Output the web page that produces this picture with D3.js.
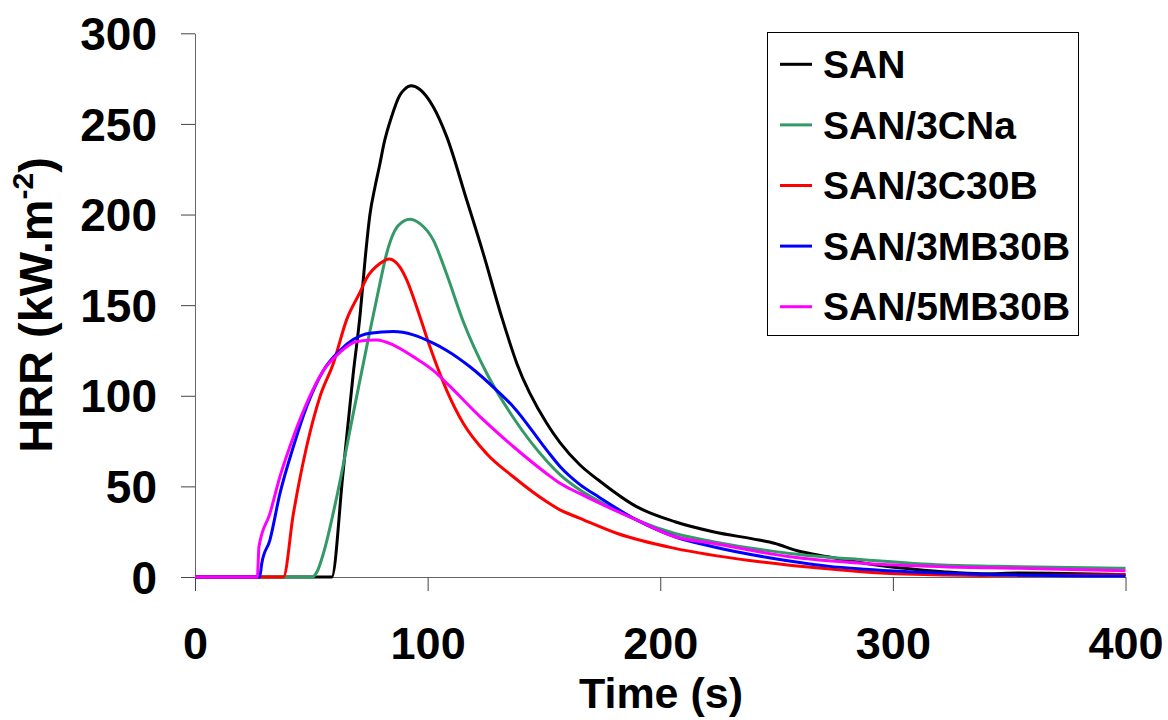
<!DOCTYPE html>
<html>
<head>
<meta charset="utf-8">
<script src="https://cdn.jsdelivr.net/npm/d3@7"></script>
<style>
  body { margin: 0; background: #fff; }
  text { font-family: "Liberation Sans", Arial, sans-serif; font-weight: bold; fill: #000; }
</style>
</head>
<body>
<svg id="chart" width="1168" height="720"></svg>
<script>
// time in s and HRR in kW/m2
const seriesNames = ["SAN", "SAN/3CNa", "SAN/3C30B", "SAN/3MB30B", "SAN/5MB30B"];
const seriesColors = ["#000000", "#339966", "#ff0000", "#0000ff", "#ff00ff"];

const sanT = [0, 58.8, 63.6, 68, 71, 73.1, 75.2, 77.5, 79.5, 81.2, 84.5, 88.1, 90, 92.9, 96.7, 102.4, 108.2, 116.8, 123.9, 131.8, 138.3, 151.2, 157, 165.5, 173.4, 189.8, 206.3, 222.7, 242.4, 249, 258.9, 272, 288.4, 305, 321.4, 338, 355, 400];
const sanV = [0, 0, 57, 112, 145, 175, 200, 216, 228, 239, 254, 266, 269, 271, 269, 259.5, 243, 208, 178.6, 143.6, 118, 84.8, 74, 61.8, 53.5, 38.8, 30.5, 25, 20.4, 18.6, 14.5, 11.2, 7.5, 4.8, 2.9, 1.8, 2.2, 1.3];

const cnaT = [0, 50.5, 52.5, 55.2, 60.9, 68, 73.8, 79.5, 82.4, 87.4, 92.4, 96.7, 102.4, 108.2, 115.3, 125.4, 136.8, 151.2, 156.9, 165.5, 173.4, 189.8, 206.3, 222.7, 255.6, 288.4, 321.4, 354.2, 400];
const cnaV = [0, 0, 3, 13, 44, 90, 127, 162, 178.6, 194, 197.4, 195, 186, 167, 141, 112.4, 88, 64, 56.5, 48, 42, 31.5, 24, 19.5, 13, 9.4, 6.6, 5.7, 4.8];

const c30bT = [0, 38, 42.3, 48, 53.7, 59.5, 65.2, 70.9, 73.8, 79.5, 83.5, 88.1, 91, 96.7, 101, 108.2, 115.3, 125.4, 136.8, 151.2, 156.9, 165.5, 181.6, 206.3, 239.2, 255.6, 272, 288, 305, 338, 400];
const c30bV = [0, 0, 35, 72, 99.5, 118, 142, 157, 165, 173, 175.5, 171, 164, 143.6, 127, 103, 84.8, 68, 55.3, 41.5, 37, 32.4, 24, 15.8, 9, 6.5, 4.5, 2.8, 1.6, 0.8, 1.2];

const mb3T = [0, 27.8, 28.7, 32.2, 36.5, 42.3, 48, 55.2, 62.3, 68, 75.2, 85.3, 93.8, 102.4, 108.2, 118.2, 129.7, 136.8, 151.2, 156.9, 165.5, 173.4, 189.8, 206.3, 222.7, 247.4, 260, 272, 288, 305, 338, 400];
const mb3V = [0, 0, 7.5, 20.4, 46, 72, 94, 114, 125, 131, 134.5, 135.4, 133.6, 129, 125, 116, 103, 94, 70, 61, 51, 44.3, 31.5, 22.2, 16.7, 10.5, 8, 6, 4.3, 3, 1.5, 0.5];

const mb5T = [0, 26.8, 27.5, 32.2, 36.5, 42.3, 48, 55.2, 62.3, 69.5, 78.1, 85.3, 93.8, 102.4, 108.2, 122.5, 136.8, 151.2, 156.9, 165.5, 173.4, 189.8, 206.3, 222.7, 255.6, 288.4, 321.4, 354, 400];
const mb5V = [0, 0, 16.7, 35, 55.3, 77.4, 95.8, 114, 124, 130, 130.8, 128, 121.6, 114, 107, 88.5, 72, 57, 51.7, 46, 41, 31.5, 22.2, 18.6, 11.2, 7.5, 5.7, 4.8, 3.5];

const xTicks = [0, 100, 200, 300, 400];
const yTicks = [0, 50, 100, 150, 200, 250, 300];

const series = [
  { name: seriesNames[0], color: seriesColors[0], t: sanT, v: sanV },
  { name: seriesNames[1], color: seriesColors[1], t: cnaT, v: cnaV },
  { name: seriesNames[2], color: seriesColors[2], t: c30bT, v: c30bV },
  { name: seriesNames[3], color: seriesColors[3], t: mb3T, v: mb3V },
  { name: seriesNames[4], color: seriesColors[4], t: mb5T, v: mb5V }
];

const svg = d3.select("svg#chart");

const x = d3.scaleLinear().domain([0, 400]).range([195, 1125.5]);
const y = d3.scaleLinear().domain([0, 300]).range([577, 33.3]);

const gx = svg.append("g")
              .attr("transform", `translate(0, ${y(0)})`)
              .call(d3.axisBottom(x).tickValues(xTicks).tickSize(14).tickSizeOuter(0).tickPadding(36));
gx.selectAll("text").attr("font-size", 45).attr("dy", "0.71em");

const gy = svg.append("g")
              .attr("transform", `translate(${x(0)}, 0)`)
              .call(d3.axisLeft(y).tickValues(yTicks).tickSize(14).tickSizeOuter(0).tickPadding(24));
gy.selectAll("text").attr("font-size", 46).attr("dy", "0.35em");

svg.selectAll(".domain").attr("stroke", "#666");
svg.selectAll(".tick line").attr("stroke", "#444");

const line = d3.line()
               .x(d => x(d[0]))
               .y(d => y(d[1]))
               .curve(d3.curveMonotoneX);

svg.append("g")
   .selectAll("path")
   .data(series)
   .enter().append("path")
           .attr("fill", "none")
           .attr("stroke", d => d.color)
           .attr("stroke-width", 3)
           .attr("stroke-linejoin", "round")
           .attr("d", d => line(d.t.map((t, i) => [t, d.v[i]])));

// axis titles
svg.append("text")
   .attr("x", 661)
   .attr("y", 708)
   .attr("text-anchor", "middle")
   .attr("font-size", 43)
   .text("Time (s)");

const yTitle = svg.append("text")
                  .attr("transform", "translate(51.5, 305) rotate(-90)")
                  .attr("text-anchor", "middle")
                  .attr("font-size", 47);
yTitle.append("tspan").text("HRR (kW.m");
yTitle.append("tspan").attr("font-size", 30).attr("dy", -19).text("-2");
yTitle.append("tspan").attr("dy", 19).text(")");

// legend
const legend = svg.append("g");
legend.append("rect")
      .attr("x", 767.5)
      .attr("y", 32.5)
      .attr("width", 311)
      .attr("height", 303)
      .attr("fill", "#fff")
      .attr("stroke", "#000")
      .attr("stroke-width", 1);

const item = legend.selectAll(".item")
                   .data(series)
                   .enter().append("g")
                           .attr("class", "item")
                           .attr("transform", (d, i) => `translate(0, ${64.3 + i * 60.6})`);
item.append("line")
    .attr("x1", 780).attr("x2", 812)
    .attr("stroke", d => d.color)
    .attr("stroke-width", 3);
item.append("text")
    .attr("x", 823)
    .attr("y", 13.7)
    .attr("font-size", 39)
    .text(d => d.name);
</script>
</body>
</html>
